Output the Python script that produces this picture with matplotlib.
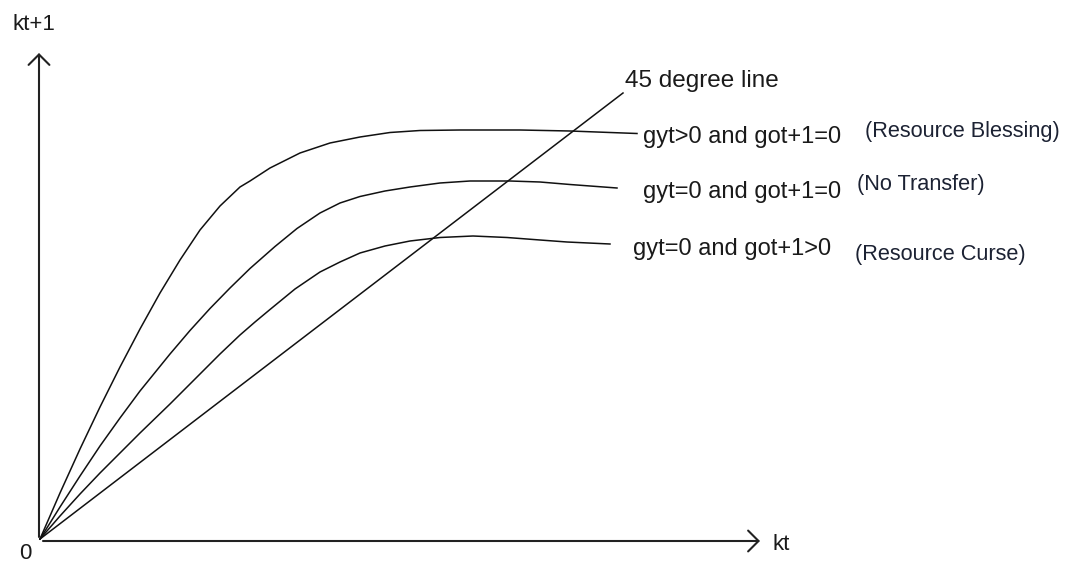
import matplotlib
matplotlib.use("Agg")
import matplotlib.pyplot as plt

# ---- data (arbitrary units, origin at 0,0) ----
blessing_x = [0, 20, 40, 60, 80, 100, 120, 140, 160, 180, 200, 210, 230, 260, 290, 320, 350, 380, 420, 480, 530, 570, 597]
blessing_y = [0, 46, 90, 132, 172, 210, 246, 279, 309, 333, 352, 358, 371, 386, 396, 402, 406.5, 408.5, 409, 409, 408, 406.5, 405.5]

notransfer_x = [0, 20, 40, 60, 80, 100, 130, 150, 170, 190, 210, 235, 257, 280, 300, 320, 345, 370, 400, 430, 470, 500, 530, 577]
notransfer_y = [0, 32, 63, 93, 121, 148, 185, 208.5, 230.5, 251, 270.5, 292.5, 310.5, 326, 336, 342.5, 348, 352, 356, 358, 358, 357, 354.5, 351]

curse_x = [0, 20, 40, 60, 80, 100, 130, 160, 180, 200, 215, 230, 255, 280, 300, 320, 345, 370, 400, 433, 467, 500, 527, 570]
curse_y = [0, 23, 45, 66, 86, 106, 135, 165, 185, 204, 217, 229.5, 250, 267, 277, 286, 293, 298, 301.5, 303, 301.5, 299, 297, 295]

line45_x = [0, 583]
line45_y = [0, 446]

curve_labels = ["gyt>0 and got+1=0", "gyt=0 and got+1=0", "gyt=0 and got+1>0"]
curve_notes = ["(Resource Blessing)", "(No Transfer)", "(Resource Curse)"]

# ---- figure ----
W, H = 1068, 562
OX, OY = 40, 539  # pixel position of the data origin
fig = plt.figure(figsize=(W / 100, H / 100), dpi=100)
ax = fig.add_axes([0, 0, 1, 1])
ax.set_xlim(-OX, W - OX)
ax.set_ylim(OY - H, OY)
ax.axis("off")
plt.rcParams["font.family"] = ["Liberation Sans", "DejaVu Sans"]

lc = "#111111"
lw = 1.1
for xs, ys in [(blessing_x, blessing_y), (notransfer_x, notransfer_y),
               (curse_x, curse_y), (line45_x, line45_y)]:
    ax.plot(xs, ys, color=lc, lw=lw, solid_joinstyle="round")

# axes with open arrowheads
arrow = dict(arrowstyle="->,head_length=0.75,head_width=0.75", color="#222222", lw=1.5,
             shrinkA=0, shrinkB=0, mutation_scale=10)
ax.annotate("", xy=(720, -2), xytext=(3, -2), arrowprops=arrow)
ax.annotate("", xy=(-1, 486), xytext=(-1, 2), arrowprops=arrow)

def px(xp, yp):
    return xp - OX, OY - yp

tc = "#1a1a1a"
ax.text(*px(12, 30), "kt+1", fontsize=16, color=tc, va="baseline", ha="left")
ax.text(*px(19, 559), "0", fontsize=16, color=tc, va="baseline", ha="left")
ax.text(*px(773, 550), "kt", fontsize=16, color=tc, va="baseline", ha="left")
ax.text(*px(625, 87), "45 degree line", fontsize=17.5, color=tc, va="baseline", ha="left")

label_pos = [(643, 143), (643, 198), (633, 255)]
note_pos = [(865, 137), (857, 190), (855, 260)]
for (lx, ly), lab in zip(label_pos, curve_labels):
    ax.text(*px(lx, ly), lab, fontsize=17, color=tc, va="baseline", ha="left")
for (nx, ny), note in zip(note_pos, curve_notes):
    ax.text(*px(nx, ny), note, fontsize=15.7, color="#1c2233", va="baseline", ha="left")

fig.savefig("out.png", dpi=100, facecolor="white")
